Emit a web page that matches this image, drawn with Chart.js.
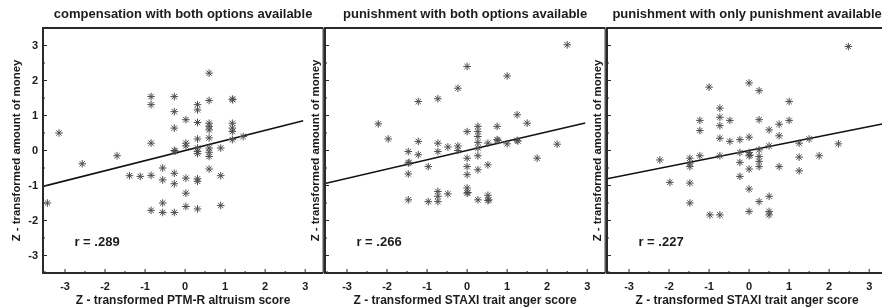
<!DOCTYPE html>
<html>
<head>
<meta charset="utf-8">
<title>Z - transformed amount of money</title>
<script src="https://cdn.jsdelivr.net/npm/chart.js@4.4.0/dist/chart.umd.min.js"></script>
<style>
  html, body { margin: 0; padding: 0; background: #fff; }
  body { width: 882px; height: 308px; overflow: hidden; position: relative; }
  canvas { position: absolute; top: 0; }
</style>
</head>
<body>
<canvas id="panel1" width="328" height="308" style="left:0px"></canvas>
<canvas id="panel2" width="328" height="308" style="left:282px"></canvas>
<canvas id="panel3" width="328" height="308" style="left:564px"></canvas>
<script>
// labels
var panelTitles = ['compensation with both options available', 'punishment with both options available', 'punishment with only punishment available'];
var xTitles = ['Z - transformed PTM-R altruism score', 'Z - transformed STAXI trait anger score', 'Z - transformed STAXI trait anger score'];
var yTitle = 'Z - transformed amount of money';
var tickValues = [-3, -2, -1, 0, 1, 2, 3];

// correlation / regression slope per panel (z-scores, so slope == r)
var rValues = [0.289, 0.266, 0.227];
var rLabels = ['r = .289', 'r = .266', 'r = .227'];
var fitStart = [-3.55, -3.55, -3.55];
var fitEnd = [2.95, 2.95, 3.45];

// compensation, both options
var compX = [-3.15, -2.57, -1.70, -3.44, -1.39, -1.12, -0.85, -0.85, -0.85, -0.85, -0.85, -0.56, -0.56, -0.56, -0.56,
  -0.27, -0.27, -0.27, -0.27, -0.25, -0.27, -0.27, -0.27, 0.02, 0.02, 0.02, 0.02, 0.02, 0.02,
  0.31, 0.31, 0.31, 0.31, 0.31, 0.31, 0.31, 0.31, 0.31, 0.31,
  0.60, 0.60, 0.60, 0.60, 0.60, 0.60, 0.60, 0.60, 0.60, 0.60, 0.89, 0.89, 0.89,
  1.18, 1.19, 1.18, 1.18, 1.18, 1.18, 1.45];
var compY = [0.50, -0.38, -0.15, -1.50, -0.72, -0.74, -0.71, 1.54, 1.31, 0.21, -1.71, -0.50, -0.84, -1.50, -1.77,
  1.54, 1.11, 0.64, 0.00, -0.02, -0.65, -0.95, -1.77, 0.88, 0.21, 0.13, -0.79, -1.22, -1.60,
  1.31, 1.16, 0.80, 0.33, 0.07, -0.03, -0.09, -0.81, -0.88, -1.67,
  2.21, 1.43, 0.78, 0.69, 0.59, 0.36, 0.07, -0.05, -0.17, -0.53, 0.07, -0.72, -1.57,
  1.47, 1.45, 0.78, 0.64, 0.54, 0.31, 0.40];

// punishment, both options
var punBothX = [2.50, 0.00, 1.00, -0.23, -0.73, -1.22, 1.25, 1.50, -2.22, -1.97, -1.22, -1.47, -1.22, -1.47, -1.45,
  -1.47, -0.97, -0.73, -0.73, -0.48, -0.23, -0.23, 0.00, 0.27, 0.27, 0.27, 0.27, 0.27, 0.27,
  0.52, 0.75, 0.75, 0.77, 1.00, 1.25, 1.27, 2.25, 1.75, 0.00, 0.00, 0.00, 0.27, 0.52,
  -1.47, -0.97, -0.73, -0.73, -0.73, -0.48, 0.00, 0.00, 0.02, 0.27, 0.52, 0.52, 0.54];
var punBothY = [3.02, 2.40, 2.13, 1.78, 1.48, 1.40, 1.02, 0.78, 0.76, 0.33, 0.26, -0.03, -0.12, -0.36, -0.34,
  -0.67, -0.46, 0.21, -0.03, 0.10, 0.13, 0.00, 0.54, 0.69, 0.54, 0.40, 0.23, 0.07, -0.15,
  0.21, 0.69, 0.31, 0.29, 0.19, 0.29, 0.27, 0.18, -0.22, -0.22, -0.46, -0.69, -0.55, -0.41,
  -1.41, -1.46, -1.17, -1.31, -1.46, -1.24, -1.07, -1.22, -1.20, -1.41, -1.28, -1.43, -1.41];

// punishment, only punishment
var punOnlyX = [2.48, -1.00, 0.00, 0.25, 1.00, -0.73, -0.73, -0.73, -1.23, -1.23, -0.48, 0.25, 1.00, 0.50, 0.75, 0.75,
  -0.73, -0.48, -0.23, 0.00, 0.50, 1.25, 1.50, 2.23, -2.23, -1.48, -1.48, -1.48, -1.23, -0.73,
  -0.23, -0.23, 0.00, 0.00, 0.02, 0.25, 0.25, 0.25, 0.25, 0.00, 1.25, 1.75, 0.75, 1.25, -0.23,
  -1.98, -1.48, 0.00, 0.25, 0.50, -1.48, 0.00, 0.50, 0.50, -0.98, -0.73];
var punOnlyY = [2.97, 1.81, 1.93, 1.71, 1.40, 1.21, 0.95, 0.71, 0.86, 0.57, 0.86, 0.88, 0.86, 0.59, 0.75, 0.42,
  0.35, 0.26, 0.31, 0.38, 0.13, 0.21, 0.33, 0.19, -0.27, -0.22, -0.36, -0.46, -0.15, -0.15,
  -0.06, -0.34, -0.06, -0.15, -0.13, 0.02, -0.17, -0.31, -0.46, -0.53, -0.19, -0.15, -0.46, -0.58, -0.74,
  -0.91, -0.93, -1.10, -1.46, -1.31, -1.50, -1.74, -1.74, -1.84, -1.84, -1.84];

var fontFamily = '"Liberation Sans", Arial, Helvetica, sans-serif';
var inkColor = '#1c1c1c';
var rLabelAt = { x: -2.2, y: -2.63 };

// box, inward ticks and the r label
var framePlugin = {
    id: 'frame',
    afterDatasetsDraw: function(chart, args, opts) {
        var ctx = chart.ctx;
        var a = chart.chartArea;
        var xs = chart.scales.x;
        var ys = chart.scales.y;
        ctx.save();
        ctx.strokeStyle = '#2a2a2a';
        ctx.lineWidth = 1.2;
        ctx.beginPath();
        ctx.moveTo(a.right, a.top);
        ctx.lineTo(a.right, a.bottom);
        ctx.stroke();
        ctx.lineWidth = 2;
        ctx.beginPath();
        ctx.moveTo(a.right, a.top);
        ctx.lineTo(a.left, a.top);
        ctx.lineTo(a.left, a.bottom);
        ctx.lineTo(a.right, a.bottom);
        ctx.stroke();
        ctx.lineWidth = 1;
        ctx.beginPath();
        for (var k = -7; k <= 7; k++) {
            var v = k / 2;
            var len = (k % 2 === 0) ? 4 : 2;
            var px = xs.getPixelForValue(v);
            if (px > a.left + 2 && px < a.right - 2) {
                ctx.moveTo(px, a.bottom);
                ctx.lineTo(px, a.bottom - len);
            }
            var py = ys.getPixelForValue(v);
            if (py > a.top + 2 && py < a.bottom - 2) {
                ctx.moveTo(a.left, py);
                ctx.lineTo(a.left + len, py);
            }
        }
        ctx.stroke();
        ctx.fillStyle = inkColor;
        ctx.font = 'bold 13px ' + fontFamily;
        ctx.textAlign = 'center';
        ctx.textBaseline = 'middle';
        ctx.fillText(opts.label, xs.getPixelForValue(rLabelAt.x), ys.getPixelForValue(rLabelAt.y));
        ctx.restore();
    }
};

function setTicks(scale) {
    scale.ticks = tickValues.map(function(v) { return { value: v }; });
}

function makePanel(id, i, xVals, yVals, showYTicks, yTitlePad) {
    var points = xVals.map(function(x, k) {
        return { x: x, y: yVals[k] };
    });
    var fitLine = [fitStart[i], fitEnd[i]].map(function(x) {
        return { x: x, y: rValues[i] * x };
    });

    new Chart(document.getElementById(id), {
        type: 'scatter',
        data: {
            datasets: [{
                data: points,
                pointStyle: 'star',
                pointRadius: 3.8,
                pointHoverRadius: 3.8,
                borderColor: '#4d4d4d',
                backgroundColor: '#4d4d4d',
                borderWidth: 1
            }, {
                type: 'line',
                data: fitLine,
                borderColor: '#111',
                borderWidth: 1.6,
                pointRadius: 0,
                fill: false
            }]
        },
        options: {
            responsive: false,
            animation: false,
            devicePixelRatio: 1,
            events: [],
            layout: { padding: { right: 3 } },
            plugins: {
                legend: { display: false },
                tooltip: { enabled: false },
                title: {
                    display: true,
                    text: panelTitles[i],
                    fullSize: false,
                    color: inkColor,
                    font: { family: fontFamily, size: 13, weight: 'bold' },
                    padding: { top: 7, bottom: 5.4 }
                },
                frame: { label: rLabels[i] }
            },
            scales: {
                x: {
                    type: 'linear',
                    min: -3.55,
                    max: 3.45,
                    grid: { display: false, drawTicks: false },
                    border: { display: false },
                    afterBuildTicks: setTicks,
                    afterFit: function(scale) { scale.height = 35; },
                    ticks: {
                        padding: 7,
                        autoSkip: false,
                        maxRotation: 0,
                        color: inkColor,
                        font: { family: fontFamily, size: 11, weight: 'bold' }
                    },
                    title: {
                        display: true,
                        text: xTitles[i],
                        color: inkColor,
                        font: { family: fontFamily, size: 12, weight: 'bold' },
                        padding: { top: 5, bottom: 0 }
                    }
                },
                y: {
                    type: 'linear',
                    min: -3.5,
                    max: 3.5,
                    grid: { display: false, drawTicks: false },
                    border: { display: false },
                    afterBuildTicks: setTicks,
                    afterFit: function(scale) { scale.width = 43; },
                    ticks: {
                        display: showYTicks,
                        padding: 5,
                        autoSkip: false,
                        color: inkColor,
                        font: { family: fontFamily, size: 11, weight: 'bold' }
                    },
                    title: {
                        display: true,
                        text: yTitle,
                        color: inkColor,
                        font: { family: fontFamily, size: 11.4, weight: 'bold' },
                        padding: { top: yTitlePad, bottom: 0 }
                    }
                }
            }
        },
        plugins: [framePlugin]
    });
}

makePanel('panel1', 0, compX, compY, true, 10);
makePanel('panel2', 1, punBothX, punBothY, false, 27);
makePanel('panel3', 2, punOnlyX, punOnlyY, false, 27);
</script>
</body>
</html>
